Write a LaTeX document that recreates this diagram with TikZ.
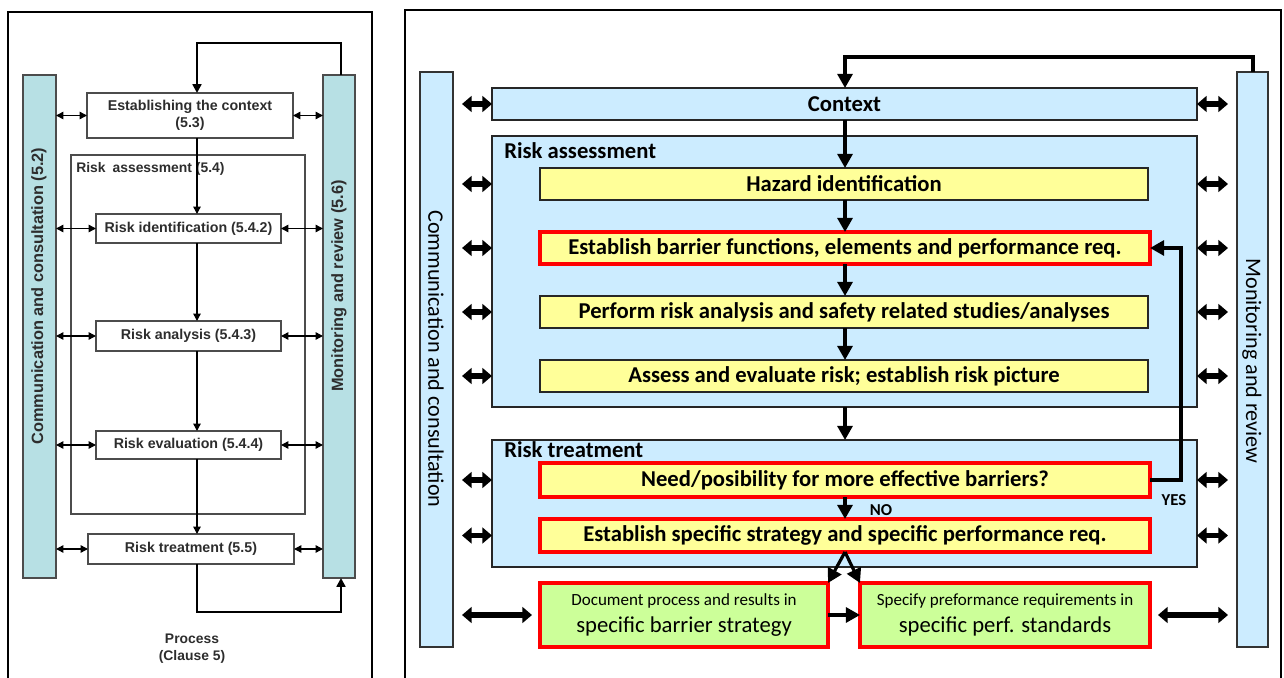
\documentclass[tikz,border=0pt]{standalone}
\usepackage{fontspec}
\newfontfamily\arialf{Liberation Sans}
\newfontfamily\calf{Carlito}
\usetikzlibrary{arrows.meta}

\definecolor{tealbar}{RGB}{183,224,228}
\definecolor{skyfill}{RGB}{204,236,255}
\definecolor{yellowfill}{RGB}{255,255,153}
\definecolor{greenfill}{RGB}{204,255,153}
\definecolor{darktext}{RGB}{45,45,45}
\definecolor{boxred}{RGB}{255,0,0}

% rectangle node given by its corners (pixel-like units)
\newcommand\boxat[7]{%
  \node[#6, minimum width={(#4-#2)*0.02cm}, minimum height={(#5-#3)*0.02cm}]
    (#1) at ({(#2+#4)/2},{(#3+#5)/2}) {#7};}

\tikzset{
  base/.style={inner sep=0pt, outer sep=0pt, align=center},
  % ISO 31000 process (left)
  lbar/.style={base, draw=gray!60!black, line width=0.6pt, fill=tealbar},
  lbox/.style={base, draw=gray!60!black, line width=0.6pt, fill=white,
    text=darktext, font=\arialf\bfseries\fontsize{8.1}{9.6}\selectfont},
  lframe/.style={base, draw=gray!60!black, line width=0.6pt},
  ltext/.style={inner sep=0pt, text=darktext, align=center,
    font=\arialf\bfseries\fontsize{7.9}{9.6}\selectfont},
  lbartext/.style={inner sep=0pt, text=darktext,
    font=\arialf\bfseries\fontsize{9.3}{11}\selectfont},
  larrow/.style={line width=0.8pt, -{Triangle[width=4.2pt,length=4.2pt]}},
  ldbl/.style={line width=0.8pt, {Triangle[width=4.2pt,length=4.2pt]}-{Triangle[width=4.2pt,length=4.2pt]}},
  lfeed/.style={line width=1.6pt, -{Triangle[width=5pt,length=5pt]}},
  % barrier management process (right)
  rbar/.style={base, draw=black!80, line width=0.9pt, fill=skyfill},
  rbox/.style={base, draw=black!85, line width=0.9pt, fill=skyfill,
    font=\calf\bfseries\fontsize{12.9}{14}\selectfont},
  ybox/.style={base, draw=black!85, line width=0.9pt, fill=yellowfill,
    font=\calf\bfseries\fontsize{12.9}{14}\selectfont},
  redbox/.style={base, draw=boxred, line width=1.8pt, fill=yellowfill,
    font=\calf\bfseries\fontsize{12.9}{14}\selectfont},
  gbox/.style={base, draw=boxred, line width=1.8pt, fill=greenfill,
    font=\calf\fontsize{12.9}{15.5}\selectfont},
  rlabel/.style={inner sep=0pt, font=\calf\bfseries\fontsize{12.9}{14}\selectfont},
  rbartext/.style={inner sep=0pt, font=\calf\fontsize{12.6}{14}\selectfont},
  yesno/.style={inner sep=0pt, font=\calf\bfseries\fontsize{9.5}{11}\selectfont},
  rarrow/.style={line width=1.8pt, -{Triangle[width=8.5pt,length=8pt]}},
  rdbl/.style={line width=3pt, {Triangle[width=9pt,length=5.5pt]}-{Triangle[width=9pt,length=5.5pt]}},
}

\begin{document}
\begin{tikzpicture}[x=0.02cm,y=-0.02cm]
\useasboundingbox (0,0) rectangle (1284,678);
\fill[white] (0,0) rectangle (1284,678);

% ---------- outer frames ----------
\draw[line width=1.6pt] (8,690) -- (8,12) -- (372,12) -- (372,690);
\draw[line width=1.6pt] (405,690) -- (405,10) -- (1281,10) -- (1281,690);

% ================= left: process (clause 5) =================
\boxat{lcomm}{23}{75}{56}{578}{lbar}{}
\boxat{lmon}{323}{75}{355}{578}{lbar}{}
\node[lbartext, rotate=90] (lcommtxt) at (39,296) {Communication and consultation (5.2)};
\node[lbartext, rotate=90] (lmontxt) at (339,286) {Monitoring and review (5.6)};

\boxat{lra}{71}{155}{305}{514}{lframe}{}
\node[ltext, anchor=north west] (lratxt) at (76,162) {Risk\enspace assessment (5.4)};

\boxat{lctx}{87}{93}{293}{138}{lbox}{Establishing the context\\(5.3)}
\boxat{lid}{96}{214}{281}{243}{lbox}{Risk identification (5.4.2)}
\boxat{lan}{96}{321}{281}{351}{lbox}{Risk analysis (5.4.3)}
\boxat{lev}{96}{431}{281}{459}{lbox}{Risk evaluation (5.4.4)}
\boxat{ltr}{88}{534}{294}{564}{lbox}{Risk treatment (5.5)}

\node[ltext] (lproc) at (192,649) {Process\\(Clause 5)};

\coordinate (lspine) at (197,0);
\draw[larrow] (lctx.south -| lspine) -- (lid.north -| lspine);
\draw[larrow] (lid.south -| lspine) -- (lan.north -| lspine);
\draw[larrow] (lan.south -| lspine) -- (lev.north -| lspine);
\draw[larrow] (lev.south -| lspine) -- (ltr.north -| lspine);

\foreach \b in {lctx,lid,lan,lev,ltr}{
  \draw[ldbl] (lcomm.east |- \b.west) -- (\b.west);
  \draw[ldbl] (\b.east) -- (lmon.west |- \b.east);
}

\coordinate (ltop) at (341,43);
\coordinate (lbot) at (341,612);
\draw[lfeed] (lmon.north -| ltop) -- (ltop) -| (lctx.north -| lspine);
\draw[lfeed] (ltr.south -| lspine) |- (lbot) -- (lmon.south -| lbot);

% ================= right: barrier management =================
\boxat{rcomm}{420}{72}{453}{647}{rbar}{}
\boxat{rmon}{1237}{72}{1268}{647}{rbar}{}
\node[rbartext, rotate=-90] (rcommtxt) at (436,359) {Communication and consultation};
\node[rbartext, rotate=-90] (rmontxt) at (1252,361) {Monitoring and review};

\boxat{rctx}{492}{88}{1197}{120}{rbox}{Context}
\boxat{rra}{492}{136}{1197}{407}{rbox}{}
\node[rlabel, anchor=base west] (rratxt) at (504,159) {Risk assessment};
\boxat{rhaz}{540}{168}{1148}{200}{ybox}{Hazard identification}
\boxat{rbarr}{540}{232}{1150}{264}{redbox}{Establish barrier functions, elements and performance req.}
\boxat{rperf}{540}{296}{1148}{328}{ybox}{Perform risk analysis and safety related studies/analyses}
\boxat{rass}{540}{360}{1148}{392}{ybox}{Assess and evaluate risk; establish risk picture}

\boxat{rrt}{492}{440}{1197}{567}{rbox}{}
\node[rlabel, anchor=base west] (rrttxt) at (504,458) {Risk treatment};
\boxat{rneed}{540}{463}{1150}{497}{redbox}{Need/posibility for more effective barriers?}
\boxat{rspec}{540}{519}{1150}{552}{redbox}{Establish specific strategy and specific performance req.}

\boxat{rdoc}{540}{583}{828}{647}{gbox}{{\fontsize{9.7}{11}\selectfont Document process and results in}\\specific barrier strategy}
\boxat{rstd}{860}{583}{1150}{647}{gbox}{{\fontsize{9.7}{11}\selectfont Specify preformance requirements in}\\specific perf. standards}

\node[yesno] (rno) at (881,510) {NO};
\node[yesno] (ryestxt) at (1174,500) {YES};

% main flow
\coordinate (rspine) at (845,0);
\coordinate (rtop) at (1253,57);
\draw[rarrow] (rmon.north -| rtop) -- (rtop) -| (rctx.north -| rspine);
\draw[rarrow] (rctx.south -| rspine) -- (rhaz.north -| rspine);
\draw[rarrow] (rhaz.south -| rspine) -- (rbarr.north -| rspine);
\draw[rarrow] (rbarr.south -| rspine) -- (rperf.north -| rspine);
\draw[rarrow] (rperf.south -| rspine) -- (rass.north -| rspine);
\draw[rarrow] (rra.south -| rspine) -- (rrt.north -| rspine);
\draw[rarrow] (rneed.south -| rspine) -- (rspec.north -| rspine);

% YES loop back to barrier functions
\coordinate (ryes) at (1181,248);
\draw[rarrow] (rneed.east) -| (ryes) -- (rbarr.east);

% split into the two documents
\draw[rarrow] (rspec.south -| rspine) -- (rdoc.north east);
\draw[rarrow] (rspec.south -| rspine) -- (rstd.north west);
\draw[rarrow] (rdoc.east) -- (rstd.west);

% communication / monitoring links
\coordinate (rlx) at (462,0);
\coordinate (rrx) at (1228,0);
\draw[rdbl] (rlx |- rctx.west) -- (rctx.west);
\draw[rdbl] (rctx.east) -- (rrx |- rctx.east);
\foreach \b in {rhaz,rbarr,rperf,rass}{
  \draw[rdbl] (rlx |- \b.west) -- (rra.west |- \b.west);
  \draw[rdbl] (rra.east |- \b.east) -- (rrx |- \b.east);
}
\foreach \b in {rneed,rspec}{
  \draw[rdbl] (rlx |- \b.west) -- (rrt.west |- \b.west);
  \draw[rdbl] (rrt.east |- \b.east) -- (rrx |- \b.east);
}
\draw[rdbl] (rlx |- rdoc.west) -- ([xshift=-0.16cm]rdoc.west);
\draw[rdbl] ([xshift=0.16cm]rstd.east) -- (rrx |- rstd.east);
\end{tikzpicture}
\end{document}
